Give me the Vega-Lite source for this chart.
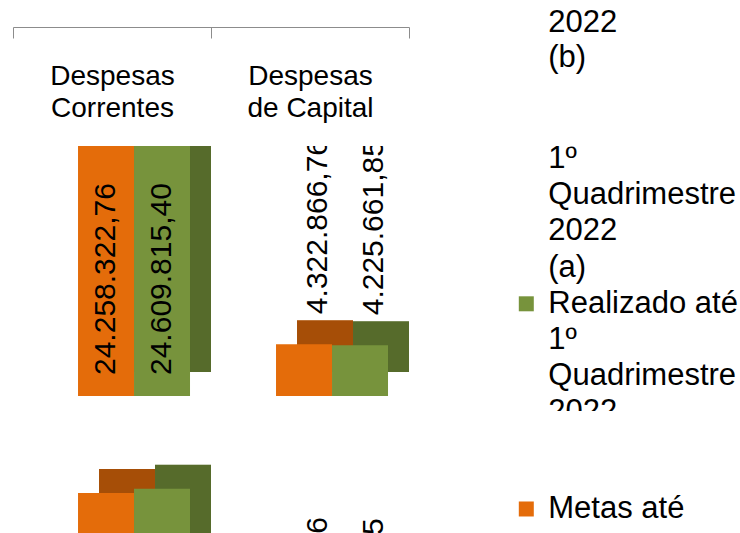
{
  "$schema": "https://vega.github.io/schema/vega-lite/v6.json",
  "padding": {"left": 12, "top": 0, "right": 0, "bottom": 0},
  "background": "white",
  "config": {
    "view": {"stroke": "transparent"},
    "font": "Liberation Sans",
    "locale": {"number": {"decimal": ",", "thousands": ".", "grouping": [3], "currency": ["R$ ", ""]}}
  },
  "datasets": {
    "despesas": [
      {"categoria": "Despesas Correntes", "serie": "Metas", "valor": 24258322.76},
      {"categoria": "Despesas Correntes", "serie": "Realizado", "valor": 24609815.40},
      {"categoria": "Despesas de Capital", "serie": "Metas", "valor": 4322866.76},
      {"categoria": "Despesas de Capital", "serie": "Realizado", "valor": 4225661.85}
    ],
    "legenda": [
      {"painel": 1, "linha": 1, "texto": "2022"},
      {"painel": 1, "linha": 2, "texto": "(b)"},
      {"painel": 2, "linha": 1, "texto": "1º"},
      {"painel": 2, "linha": 2, "texto": "Quadrimestre"},
      {"painel": 2, "linha": 3, "texto": "2022"},
      {"painel": 2, "linha": 4, "texto": "(a)"},
      {"painel": 2, "linha": 5, "texto": "Realizado até", "serie": "Realizado"},
      {"painel": 2, "linha": 6, "texto": "1º"},
      {"painel": 2, "linha": 7, "texto": "Quadrimestre"},
      {"painel": 2, "linha": 8, "texto": "2022"},
      {"painel": 3, "linha": 1, "texto": "Metas até", "serie": "Metas"},
      {"painel": 3, "linha": 2, "texto": "1º"},
      {"painel": 3, "linha": 3, "texto": "Quadrimestre"},
      {"painel": 3, "linha": 4, "texto": "2022"},
      {"painel": 3, "linha": 5, "texto": "(a)"}
    ]
  },
  "columns": 2,
  "align": "each",
  "bounds": "flush",
  "spacing": {"row": 0, "column": 106},
  "resolve": {"scale": {"x": "independent", "y": "independent"}},
  "concat": [
    {
      "width": 396,
      "height": 26,
      "data": {"name": "despesas"},
      "mark": {"type": "bar", "opacity": 0},
      "encoding": {
        "x": {
          "field": "categoria", "type": "nominal",
          "scale": {"domain": ["Despesas Correntes", "Despesas de Capital"], "paddingInner": 0, "paddingOuter": 0},
          "axis": {
            "orient": "bottom", "title": null, "labelAngle": 0,
            "labelExpr": "datum.label == 'Despesas Correntes' ? ['Despesas', 'Correntes'] : (datum.label == 'Despesas de Capital' ? ['Despesas', 'de Capital'] : '')",
            "tickBand": "extent", "tickSize": 11, "domainColor": "#8c8c8c", "tickColor": "#8c8c8c",
            "labelFontSize": 28, "labelPadding": 24, "labelLineHeight": 32, "labelColor": "#000000",
            "labelFont": "Liberation Sans", "labelBaseline": "top", "labelLimit": 0
          }
        }
      }
    },
    {
      "width": 226,
      "height": 145,
      "data": {"name": "legenda"},
      "transform": [{"filter": "datum.painel == 1"}],
      "mark": {"type": "text", "align": "left", "baseline": "middle", "dx": 22, "fontSize": 31, "clip": true, "color": "#000000"},
      "encoding": {
        "x": {"datum": 0, "type": "quantitative", "scale": {"domain": [-0.05, 0.95]}, "axis": null},
        "y": {"field": "linha", "type": "quantitative", "scale": {"domain": [0.371, 4.514], "reverse": true, "nice": false, "zero": false}, "axis": null},
        "text": {"field": "texto"}
      }
    },
    {
      "width": 396,
      "height": 250,
      "data": {"name": "despesas"},
      "resolve": {"scale": {"xOffset": "independent"}},
      "encoding": {
        "x": {"field": "categoria", "type": "nominal", "scale": {"domain": ["Despesas Correntes", "Despesas de Capital"], "paddingInner": 0, "paddingOuter": 0}, "axis": null},
        "xOffset": {"field": "serie", "type": "nominal", "scale": {"type": "band", "domain": ["Metas", "Realizado"], "paddingInner": 0, "paddingOuter": 0.768, "align": 0.756}},
        "y": {"field": "valor", "type": "quantitative", "scale": {"domain": [0, 20833333], "nice": false, "zero": false}, "axis": null}
      },
      "layer": [
        {
          "mark": {"type": "bar", "yOffset": -24, "y2Offset": -23, "clip": true},
          "encoding": {
            "xOffset": {"field": "serie", "type": "nominal", "scale": {"type": "band", "domain": ["Metas", "Realizado"], "paddingInner": 0, "paddingOuter": 0.768, "align": 1}},
            "color": {"field": "serie", "type": "nominal", "scale": {"domain": ["Metas", "Realizado"], "range": ["#e46c0a", "#77933c"]}, "legend": null}
          }
        },
        {
          "mark": {"type": "bar", "yOffset": -24, "y2Offset": -23, "clip": true, "color": "#000000", "opacity": 0.27},
          "encoding": {
            "xOffset": {"field": "serie", "type": "nominal", "scale": {"type": "band", "domain": ["Metas", "Realizado"], "paddingInner": 0, "paddingOuter": 0.768, "align": 1}}
          }
        },
        {
          "mark": {"type": "bar", "clip": true},
          "encoding": {"color": {"field": "serie", "type": "nominal", "scale": {"domain": ["Metas", "Realizado"], "range": ["#e46c0a", "#77933c"]}, "legend": null}}
        },
        {
          "transform": [{"filter": "datum.categoria == 'Despesas Correntes'"}],
          "mark": {"type": "text", "angle": 270, "align": "left", "baseline": "middle", "dx": 21, "fontSize": 30, "clip": true, "color": "#000000"},
          "encoding": {"y": {"datum": 0}, "text": {"field": "valor", "type": "quantitative", "format": ",.2f"}}
        },
        {
          "transform": [{"filter": "datum.categoria == 'Despesas de Capital'"}],
          "mark": {"type": "text", "angle": 270, "align": "left", "baseline": "middle", "dx": 30, "dy": 14, "fontSize": 30, "clip": true, "color": "#000000"},
          "encoding": {"text": {"field": "valor", "type": "quantitative", "format": ",.2f"}}
        }
      ]
    },
    {
      "width": 226,
      "height": 265,
      "data": {"name": "legenda"},
      "transform": [{"filter": "datum.painel == 2"}],
      "encoding": {
        "x": {"datum": 0, "type": "quantitative", "scale": {"domain": [-0.05, 0.95]}, "axis": null},
        "y": {"field": "linha", "type": "quantitative", "scale": {"domain": [0.641, 7.961], "reverse": true, "nice": false, "zero": false}, "axis": null}
      },
      "layer": [
        {
          "mark": {"type": "text", "align": "left", "baseline": "middle", "dx": 22, "fontSize": 31, "clip": true, "color": "#000000"},
          "encoding": {"text": {"field": "texto"}}
        },
        {
          "transform": [{"filter": "isValid(datum.serie)"}],
          "mark": {"type": "point", "shape": "square", "filled": true, "size": 225, "opacity": 1, "clip": true},
          "encoding": {"color": {"field": "serie", "type": "nominal", "scale": {"domain": ["Metas", "Realizado"], "range": ["#e46c0a", "#77933c"]}, "legend": null}}
        }
      ]
    },
    {
      "width": 396,
      "height": 123,
      "data": {"name": "despesas"},
      "resolve": {"scale": {"xOffset": "independent"}},
      "encoding": {
        "x": {"field": "categoria", "type": "nominal", "scale": {"domain": ["Despesas Correntes", "Despesas de Capital"], "paddingInner": 0, "paddingOuter": 0}, "axis": null},
        "xOffset": {"field": "serie", "type": "nominal", "scale": {"type": "band", "domain": ["Metas", "Realizado"], "paddingInner": 0, "paddingOuter": 0.768, "align": 0.756}},
        "y": {"field": "valor", "type": "quantitative", "scale": {"domain": [20841600, 31091600], "nice": false, "zero": false}, "axis": null}
      },
      "layer": [
        {
          "mark": {"type": "bar", "yOffset": -24, "y2Offset": -23, "clip": true},
          "encoding": {
            "xOffset": {"field": "serie", "type": "nominal", "scale": {"type": "band", "domain": ["Metas", "Realizado"], "paddingInner": 0, "paddingOuter": 0.768, "align": 1}},
            "color": {"field": "serie", "type": "nominal", "scale": {"domain": ["Metas", "Realizado"], "range": ["#e46c0a", "#77933c"]}, "legend": null}
          }
        },
        {
          "mark": {"type": "bar", "yOffset": -24, "y2Offset": -23, "clip": true, "color": "#000000", "opacity": 0.27},
          "encoding": {
            "xOffset": {"field": "serie", "type": "nominal", "scale": {"type": "band", "domain": ["Metas", "Realizado"], "paddingInner": 0, "paddingOuter": 0.768, "align": 1}}
          }
        },
        {
          "mark": {"type": "bar", "clip": true},
          "encoding": {"color": {"field": "serie", "type": "nominal", "scale": {"domain": ["Metas", "Realizado"], "range": ["#e46c0a", "#77933c"]}, "legend": null}}
        },
        {
          "transform": [{"filter": "datum.categoria == 'Despesas de Capital'"}],
          "mark": {"type": "text", "angle": 270, "align": "left", "baseline": "middle", "dx": 40, "dy": 14, "fontSize": 30, "clip": true, "color": "#000000"},
          "encoding": {"text": {"field": "valor", "type": "quantitative", "format": ",.2f"}}
        }
      ]
    },
    {
      "width": 226,
      "height": 115,
      "data": {"name": "legenda"},
      "transform": [{"filter": "datum.painel == 3"}],
      "encoding": {
        "x": {"datum": 0, "type": "quantitative", "scale": {"domain": [-0.05, 0.95]}, "axis": null},
        "y": {"field": "linha", "type": "quantitative", "scale": {"domain": [-1.707, 1.470], "reverse": true, "nice": false, "zero": false}, "axis": null}
      },
      "layer": [
        {
          "mark": {"type": "text", "align": "left", "baseline": "middle", "dx": 22, "fontSize": 31, "clip": true, "color": "#000000"},
          "encoding": {"text": {"field": "texto"}}
        },
        {
          "transform": [{"filter": "isValid(datum.serie)"}],
          "mark": {"type": "point", "shape": "square", "filled": true, "size": 225, "opacity": 1, "clip": true},
          "encoding": {"color": {"field": "serie", "type": "nominal", "scale": {"domain": ["Metas", "Realizado"], "range": ["#e46c0a", "#77933c"]}, "legend": null}}
        }
      ]
    }
  ]
}
